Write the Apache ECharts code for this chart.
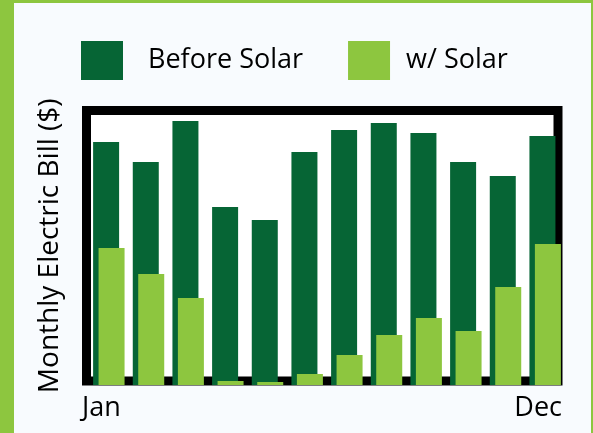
<!DOCTYPE html>
<html>
<head>
<meta charset="utf-8">
<script src="https://cdn.jsdelivr.net/npm/echarts@6/dist/echarts.min.js"></script>
<style>
html,body{margin:0;padding:0;}
#bg{position:absolute;left:0;top:0;width:593px;height:433px;box-sizing:border-box;border-left:14px solid #8dc63f;border-top:3px solid #8dc63f;border-right:2px solid #8dc63f;background:#f8fbfe;}
#chart{position:absolute;left:0;top:0;width:593px;height:433px;}
</style>
</head>
<body>
<div id="bg"></div>
<div id="chart"></div>
<script>
const months = ['Jan','Feb','Mar','Apr','May','Jun','Jul','Aug','Sep','Oct','Nov','Dec'];
const beforeSolar = [243, 223, 264, 178, 165, 233, 255, 262, 252, 223, 209, 249];
const withSolar = [137, 111, 87, 4, 3, 11, 30, 50, 67, 54, 98, 141];
const edgeLabels = ['Jan', 'Dec'];
const seriesNames = ['Before Solar', 'w/ Solar'];
const colors = ['#066535', '#8dc63f'];

const font = '"Open Sans", sans-serif';
const chart = echarts.init(document.getElementById('chart'), null, {renderer: 'canvas'});
chart.setOption({
  animation: false,
  backgroundColor: 'transparent',
  color: colors,
  legend: {
    left: 81, top: 41, padding: 0,
    itemWidth: 42, itemHeight: 39, itemGap: 45,
    icon: 'rect',
    data: [
      {name: seriesNames[0], textStyle: {padding: [0, 0, 0, 20]}},
      {name: seriesNames[1], textStyle: {padding: [0, 0, 0, 11]}}
    ],
    textStyle: {fontFamily: font, fontSize: 27, color: '#000'}
  },
  grid: [
    {left: 86.5, right: 35, top: 110.5, bottom: 52, show: true, borderWidth: 9, borderColor: '#000', backgroundColor: '#fff'},
    {left: 89, right: 28, top: 85, bottom: 48},
    {left: 82, right: 31, top: 106, bottom: 48}
  ],
  xAxis: [
    {gridIndex: 0, type: 'value', show: false},
    {gridIndex: 1, type: 'category', data: months, show: false},
    {gridIndex: 2, type: 'category', data: edgeLabels, boundaryGap: false,
     axisLine: {show: false}, axisTick: {show: false}, splitLine: {show: false},
     axisLabel: {show: true, interval: 0, margin: 10, fontFamily: font, fontSize: 27, color: '#000', alignMinLabel: 'left', alignMaxLabel: 'right'}}
  ],
  yAxis: [
    {gridIndex: 0, type: 'value', axisLine: {show: false}, axisTick: {show: false}, axisLabel: {show: false}, splitLine: {show: false},
     name: 'Monthly Electric Bill ($)', nameLocation: 'middle', nameRotate: 90, nameGap: 22,
     nameTextStyle: {fontFamily: font, fontSize: 28, color: '#000'}},
    {gridIndex: 1, type: 'value', min: 0, max: 300, show: false},
    {gridIndex: 2, type: 'value', show: false}
  ],
  series: [
    {name: seriesNames[0], type: 'bar', xAxisIndex: 1, yAxisIndex: 1, data: beforeSolar, barWidth: 26, barGap: '-79%', itemStyle: {color: colors[0]}},
    {name: seriesNames[1], type: 'bar', xAxisIndex: 1, yAxisIndex: 1, data: withSolar, barWidth: 26, barGap: '-79%', itemStyle: {color: colors[1]}}
  ]
});
</script>
</body>
</html>
